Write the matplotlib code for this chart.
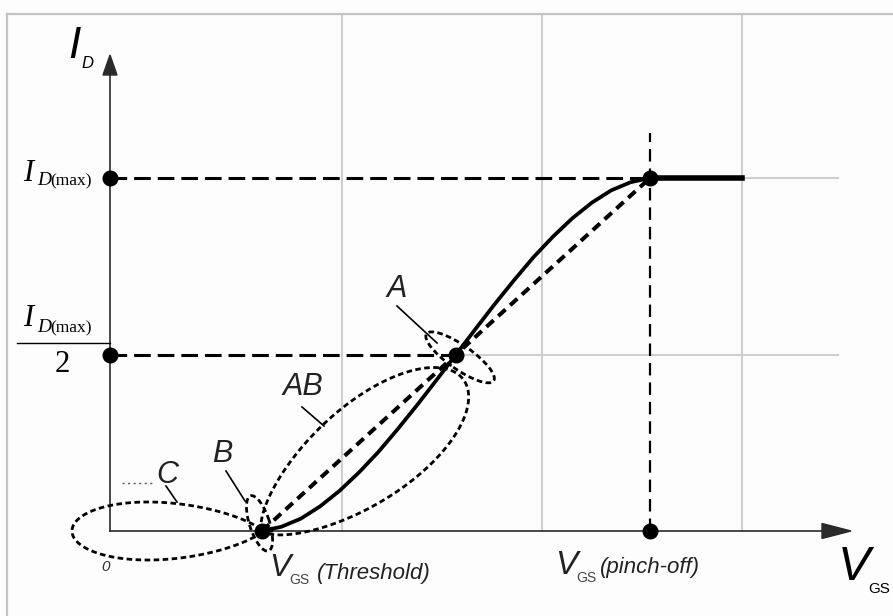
import numpy as np
import matplotlib
matplotlib.use("Agg")
import matplotlib.pyplot as plt
from matplotlib.patches import Ellipse, Polygon
from matplotlib.transforms import Affine2D, ScaledTranslation

# ---------------- data (VGS in arbitrary units, ID normalised to ID(max)) -------------
v_threshold = 1.52
v_pinchoff = 5.40
v_end = 6.32
id_max = 1.0
vgs_curve = [1.520, 1.714, 1.908, 2.102, 2.296, 2.490, 2.684, 2.878, 3.072, 3.266, 3.460,
             3.654, 3.848, 4.042, 4.236, 4.430, 4.624, 4.818, 5.012, 5.206, 5.400]
id_curve = [0.0, 0.012, 0.035, 0.070, 0.114, 0.166, 0.224, 0.289, 0.357, 0.428, 0.500,
            0.572, 0.643, 0.711, 0.776, 0.834, 0.886, 0.930, 0.965, 0.988, 1.0]
grid_v = [2.32, 4.32, 6.32]
region_labels = ["A", "AB", "B", "C"]

plt.rcParams['lines.scale_dashes'] = False

W, H = 893, 616
fig = plt.figure(figsize=(W / 100, H / 100), dpi=100)
fig.patch.set_facecolor('#fdfdfd')
ax = fig.add_axes([0, 0, 1, 1])
ax.set_xlim(-1.10, 7.83)
ax.set_ylim(-85 / 353, 531 / 353)
ax.axis('off')

# pixel (image coords, y down) -> display transform
pix = Affine2D().scale(1, -1).translate(0, H)

v_mid = (v_threshold + v_pinchoff) / 2
i_half = id_max / 2
top_y = (531 - 14) / 353
grid_right = 7.28

# frame
ax.plot([7, W], [14, 14], color='#c4c4c4', lw=1.6, transform=pix, clip_on=False)
ax.plot([7, 7], [14, H], color='#c4c4c4', lw=1.6, transform=pix, clip_on=False)

# light grid
for gx in grid_v:
    ax.plot([gx, gx], [0, top_y], color='#cfcfcf', lw=1.5, zorder=1)
ax.plot([v_pinchoff, grid_right], [id_max, id_max], color='#cfcfcf', lw=1.5, zorder=1)
ax.plot([v_mid, grid_right], [i_half, i_half], color='#cfcfcf', lw=1.5, zorder=1)

# axes with arrows
ax.plot([0, 0], [0, (531 - 72) / 353], color='#2a2a2a', lw=1.2, zorder=3)
ax.plot([0, (822 - 110) / 100], [0, 0], color='#2a2a2a', lw=1.2, zorder=3)
ax.add_patch(Polygon([[110, 55], [103, 75], [117, 75]], closed=True, color='#2a2a2a',
                     transform=pix, zorder=3))
ax.add_patch(Polygon([[851, 531], [822, 523.5], [822, 538.5]], closed=True, color='#2a2a2a',
                     transform=pix, zorder=3))

# dashed guide lines
ax.plot([0, v_pinchoff], [id_max, id_max], color='black', lw=2.2, dashes=(12, 5), zorder=4)
ax.plot([0, v_mid], [i_half, i_half], color='black', lw=2.2, dashes=(12, 5), zorder=4)
ax.plot([v_pinchoff, v_pinchoff], [0, (531 - 133) / 353], color='black', lw=1.6,
        dashes=(9, 5), zorder=4)
ax.plot([v_threshold, v_pinchoff], [0, id_max], color='black', lw=2.9, dashes=(7, 4.5), zorder=5)

# transfer curve
ax.plot(vgs_curve, id_curve, color='black', lw=2.7, solid_capstyle='round',
        solid_joinstyle='round', zorder=6)
ax.plot([v_pinchoff, v_end], [id_max, id_max], color='black', lw=4.0, zorder=6)

# marker dots
dots_x = [0, 0, v_threshold, v_mid, v_pinchoff, v_pinchoff]
dots_y = [id_max, i_half, 0, i_half, id_max, 0]
ax.plot(dots_x, dots_y, 'o', color='black', ms=10.5, zorder=8)


# region loops
def anchored(x, y, ang):
    return Affine2D().rotate_deg(ang) + ScaledTranslation(x, y, ax.transData)


def lobe(L, Wd, p=0.5, n=300):
    phi = np.linspace(0, 2 * np.pi, n)
    xs = L * (1 - np.cos(phi)) / 2
    prof = np.sin(phi) * np.sin(phi / 2) ** p
    ys = Wd * prof / prof.max()
    return np.column_stack([xs, ys])


loop_kw = dict(fill=False, edgecolor='black', lw=2.0, linestyle=(0, (4, 2.5)), zorder=7)
# C (pointing left from threshold)
ax.add_patch(Polygon(lobe(190, 29, 0.5), closed=True, transform=anchored(v_threshold, 0, 180),
                     **loop_kw))
# AB (from threshold towards A)
ax.add_patch(Polygon(lobe(252, 50, 0.35), closed=True, transform=anchored(v_threshold, 0, 37),
                     **loop_kw))
# B (narrow loop through threshold)
ax.add_patch(Ellipse((8, 0), 58, 20, transform=anchored(v_threshold, 0, 108), **loop_kw))
# A (narrow loop through mid point)
ax.add_patch(Ellipse((5, 0), 82, 24, transform=anchored(v_mid, i_half, -35), **loop_kw))

# leader lines
for (x0, y0, x1, y1) in [(397, 306, 437, 343), (302, 407, 324, 426),
                         (226, 471, 245, 501), (166, 486, 177, 502)]:
    ax.plot([x0, x1], [y0, y1], color='black', lw=1.2, transform=pix, zorder=7)
ax.plot([122, 152], [483, 483], color='#555555', lw=1.0, dashes=(1.5, 2.5), transform=pix, zorder=7)

sans = 'Liberation Sans'
serif = 'Liberation Serif'


def ftext(px, py, s, **kw):
    fig.text(px / W, 1 - py / H, s, **kw)


label_pos = [(397, 289), (303, 387), (222, 454), (167, 475)]
for lab, (lx, ly) in zip(region_labels, label_pos):
    ftext(lx, ly, lab, fontsize=22, family=sans, style='italic', ha='center', va='center',
          color='#222222')

# axis titles
ftext(74, 46, 'I', fontsize=32, family=sans, style='italic', ha='center', va='center')
ftext(87, 63, 'D', fontsize=12, family=sans, style='italic', ha='center', va='center')

ftext(854, 567, 'V', fontsize=35, family=sans, style='italic', ha='center', va='center')
ftext(868, 589, 'GS', fontsize=11, family=sans, ha='left', va='center')

# ID(max) labels
ftext(28, 173, 'I', fontsize=22, family=serif, style='italic', ha='center', va='center')
ftext(37, 181, 'D', fontsize=14, family=serif, style='italic', ha='left', va='center')
ftext(50, 181, '(max)', fontsize=12.5, family=serif, ha='left', va='center')

ftext(28, 318, 'I', fontsize=22, family=serif, style='italic', ha='center', va='center')
ftext(37, 328, 'D', fontsize=14, family=serif, style='italic', ha='left', va='center')
ftext(50, 328, '(max)', fontsize=12.5, family=serif, ha='left', va='center')
ax.plot([17, 110], [343, 343], color='black', lw=1.0, transform=pix, zorder=3)
ftext(62, 364, '2', fontsize=22, family=serif, ha='center', va='center')

# x annotations
ftext(106, 567, '0', fontsize=11, family=sans, style='italic', ha='center', va='center',
      color='#333333')
ftext(280, 568, 'V', fontsize=23, family=sans, style='italic', ha='center', va='center',
      color='#222222')
ftext(289, 580, 'GS', fontsize=10, family=sans, ha='left', va='center', color='#444444')
ftext(317, 574, '(Threshold)', fontsize=16, family=sans, style='italic', ha='left', va='center',
      color='#222222')

ftext(566, 565, 'V', fontsize=24, family=sans, style='italic', ha='center', va='center',
      color='#222222')
ftext(576, 578, 'GS', fontsize=10, family=sans, ha='left', va='center', color='#444444')
ftext(600, 568, '(pinch-off)', fontsize=16, family=sans, style='italic', ha='left', va='center',
      color='#222222')

fig.savefig('out.png', dpi=100, facecolor=fig.get_facecolor())
